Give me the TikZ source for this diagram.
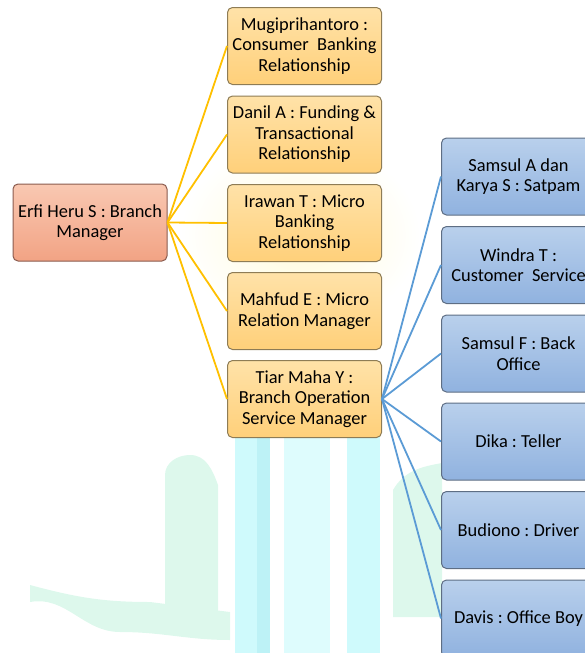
\documentclass[tikz,border=0pt]{standalone}
\usepackage{fontspec}
\setmainfont{Carlito}
\usepackage{tikz}

\definecolor{bossTop}{HTML}{F9C8B2}
\definecolor{bossBot}{HTML}{F2A384}
\definecolor{bossLine}{HTML}{8A5B4E}
\definecolor{staffTop}{HTML}{FFE2A8}
\definecolor{staffBot}{HTML}{FFD07A}
\definecolor{staffLine}{HTML}{8E7C55}
\definecolor{opsTop}{HTML}{B9D0EC}
\definecolor{opsBot}{HTML}{90B2DF}
\definecolor{opsLine}{HTML}{5E6E84}
\definecolor{goldLine}{HTML}{FFC000}
\definecolor{blueLine}{HTML}{5B9BD5}
\definecolor{wmCyan}{HTML}{CFFAFC}
\definecolor{wmCyanDark}{HTML}{BDF2F6}
\definecolor{wmCyanLight}{HTML}{DEFCFD}
\definecolor{wmGreen}{HTML}{DDF8EC}
\definecolor{wmYellow}{HTML}{FFFBDA}

\tikzset{
  box/.style={rounded corners=5pt, line width=1pt, align=center,
    minimum width=154pt, minimum height=77pt, inner sep=2pt,
    font=\fontsize{18.4pt}{20.5pt}\selectfont},
  boss/.style={box, draw=bossLine, top color=bossTop, bottom color=bossBot},
  staff/.style={box, draw=staffLine, top color=staffTop, bottom color=staffBot},
  ops/.style={box, draw=opsLine, top color=opsTop, bottom color=opsBot},
  goldlink/.style={draw=goldLine, line width=1.8pt},
  bluelink/.style={draw=blueLine, line width=1.8pt}
}

\begin{document}
\frenchspacing
\begin{tikzpicture}[x=1pt,y=-1pt]
\clip (0,0) rectangle (585,653);

% faint logo behind the chart
\shade[inner color=wmYellow, outer color=white] (300,235) ellipse (120 and 95);
\fill[wmCyan] (235,437) rectangle (270,653);
\fill[wmCyanDark] (257,437) rectangle (270,653);
\fill[wmCyanLight] (284,437) rectangle (330,653);
\fill[wmCyan] (347,437) rectangle (380,653);
\fill[wmGreen] (165,475) to[out=90,in=180] (190,455) to[out=0,in=110] (218,485) -- (218,615) -- (165,615) -- cycle;
\fill[wmGreen] (30,585) to[out=-15,in=180] (150,602) -- (230,612) -- (230,640) to[out=180,in=0] (120,632) to[out=180,in=10] (30,602) -- cycle;
\fill[wmGreen] (393,490) to[out=60,in=190] (442,463) -- (442,617) -- (393,617) -- cycle;

\node[boss] (erfi) at (90,222.5) {Erfi Heru S : Branch\\Manager};

\node[staff] (mugi) at (304.5,46) {Mugiprihantoro :\\Consumer\ \ Banking\\Relationship};
\node[staff] (danil) at (304.5,134.5) {Danil A : Funding \&\\Transactional\\Relationship};
\node[staff] (irawan) at (304.5,223) {Irawan T : Micro\\Banking\\Relationship};
\node[staff] (mahfud) at (304.5,311) {Mahfud E : Micro\\Relation Manager};
\node[staff] (tiar) at (304.5,399) {Tiar Maha Y :\\Branch Operation\\Service Manager};

\node[ops] (samsul) at (518.5,176.5) {Samsul A dan\\Karya S : Satpam};
\node[ops] (windra) at (518.5,265) {Windra T :\\Customer\ \ Service};
\node[ops] (samsulf) at (518.5,353.5) {Samsul F : Back\\Office};
\node[ops] (dika) at (518.5,441.5) {Dika : Teller};
\node[ops] (budiono) at (518.5,530) {Budiono : Driver};
\node[ops] (davis) at (518.5,618.5) {Davis : Office Boy};

\foreach \n in {mugi,danil,irawan,mahfud,tiar}
  \draw[goldlink] (erfi.east) -- (\n.west);
\foreach \n in {samsul,windra,samsulf,dika,budiono,davis}
  \draw[bluelink] (tiar.east) -- (\n.west);
\end{tikzpicture}
\end{document}
